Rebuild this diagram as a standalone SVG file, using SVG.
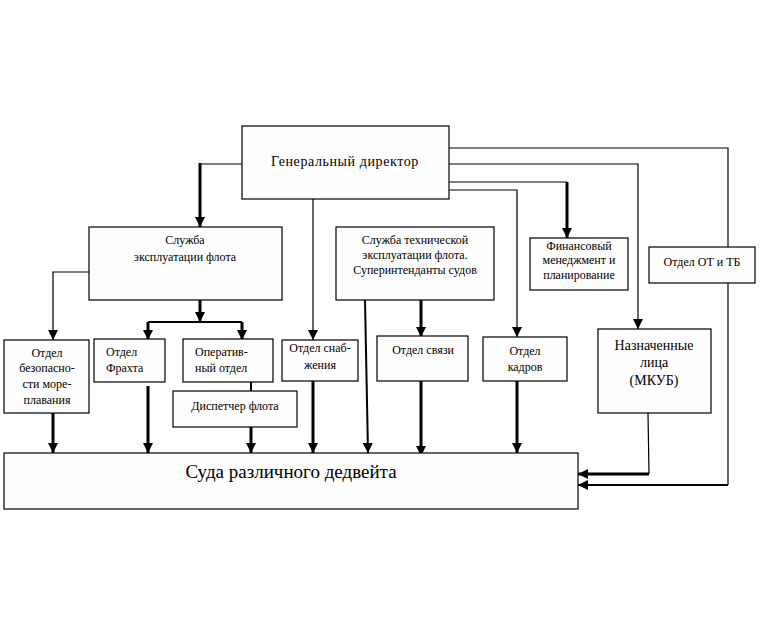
<svg xmlns="http://www.w3.org/2000/svg" width="765" height="638" viewBox="0 0 765 638">
<style>
.box{fill:#fdfdfd;stroke:#000;stroke-width:1.2}
.tl{text-anchor:start}
.thin{fill:none;stroke:#000;stroke-width:1.2}
.thick{fill:none;stroke:#000;stroke-width:3}
.mid{fill:none;stroke:#000;stroke-width:2}
.arr{marker-end:url(#ah)}
</style>
<defs>
<marker id="ah" markerUnits="userSpaceOnUse" viewBox="0 0 10 10" markerWidth="11" markerHeight="10" refX="10" refY="5" orient="auto">
<path d="M0,0 L10,5 L0,10 z" fill="#000"/>
</marker>
</defs>
<rect width="765" height="638" fill="#fff"/>
<g id="connectors">
<path class="thin" d="M242,164 H200"/>
<path class="thick arr" d="M200,163 V227"/>
<path class="thick arr" d="M200,300 V322"/>
<path class="mid" d="M148,322 H242"/>
<path class="thick arr" d="M148,322 V340"/>
<path class="thick arr" d="M242,322 V340"/>
<path class="thin arr" d="M89,272 H53 V340"/>
<path class="thick arr" d="M53,413 V453"/>
<path class="thick arr" d="M148,386 V453"/>
<path class="mid" d="M251,382 V391"/>
<path class="thick arr" d="M251,427 V453"/>
<path class="thin arr" d="M313,199 V340"/>
<path class="thick arr" d="M313,381 V453"/>
<path class="mid arr" d="M365,300 L368,453"/>
<path class="thick arr" d="M421,300 V337"/>
<path class="thick arr" d="M421,381 V456"/>
<path class="thin arr" d="M449,190 H517 V337"/>
<path class="thick arr" d="M517,381 V453"/>
<path class="thin" d="M449,182 H567"/>
<path class="thick arr" d="M567,182 V238"/>
<path class="thin arr" d="M449,164 H638 V329"/>
<path class="thin" d="M449,148 H728 V485"/>
<path class="mid arr" d="M728,485 H578"/>
<path class="thin" d="M648,413 L649,474"/>
<path class="thick arr" d="M649,474 H578"/>
</g>
<g font-family="Liberation Serif, Times New Roman, serif" font-size="12" text-anchor="middle" fill="#000">
<g id="gd"><rect class="box" x="242" y="126" width="207" height="73"/><text x="345" y="166" font-size="14" letter-spacing="0.6">Генеральный директор</text></g>
<g id="sluzhba"><rect class="box" x="89" y="227" width="193" height="73"/><text x="185" y="244">Служба</text><text x="185" y="261">эксплуатации флота</text></g>
<g id="tech"><rect class="box" x="336" y="227" width="158" height="73"/><text x="415" y="244">Служба технической</text><text x="415" y="259">эксплуатации флота.</text><text x="415" y="274">Суперинтенданты судов</text></g>
<g id="fin"><rect class="box" x="530" y="238" width="98" height="52"/><text x="579" y="250">Финансовый</text><text x="579" y="264">менеджмент и</text><text x="579" y="279">планирование</text></g>
<g id="ottb"><rect class="box" x="649" y="247" width="106" height="36"/><text x="702" y="266">Отдел ОТ и ТБ</text></g>
<g id="bezop"><rect class="box" x="4" y="340" width="85" height="73"/><text x="47" y="357">Отдел</text><text x="47" y="372">безопасно-</text><text x="47" y="388">сти море-</text><text x="47" y="404">плавания</text></g>
<g id="fraht"><rect class="box" x="94" y="339" width="71" height="43"/><text class="tl" x="106" y="356">Отдел</text><text class="tl" x="106" y="372">Фрахта</text></g>
<g id="oper"><rect class="box" x="183" y="339" width="90" height="43"/><text class="tl" x="195" y="356">Оператив-</text><text class="tl" x="195" y="372">ный отдел</text></g>
<g id="disp"><rect class="box" x="173" y="391" width="124" height="36"/><text x="235" y="410">Диспетчер флота</text></g>
<g id="snab"><rect class="box" x="282" y="340" width="76" height="41"/><text x="320" y="352">Отдел снаб-</text><text x="320" y="369">жения</text></g>
<g id="svyaz"><rect class="box" x="377" y="336" width="91" height="45"/><text x="423" y="354">Отдел связи</text></g>
<g id="kadr"><rect class="box" x="483" y="337" width="84" height="44"/><text x="525" y="355">Отдел</text><text x="525" y="371">кадров</text></g>
<g id="nazn"><rect class="box" x="598" y="329" width="113" height="84"/><text x="654" y="350" font-size="14">Назначенные</text><text x="654" y="367" font-size="14">лица</text><text x="654" y="385" font-size="14">(МКУБ)</text></g>
<g id="suda"><rect class="box" x="4" y="453" width="574" height="56"/><text x="291" y="478" font-size="19">Суда различного дедвейта</text></g>
</g>
</svg>
